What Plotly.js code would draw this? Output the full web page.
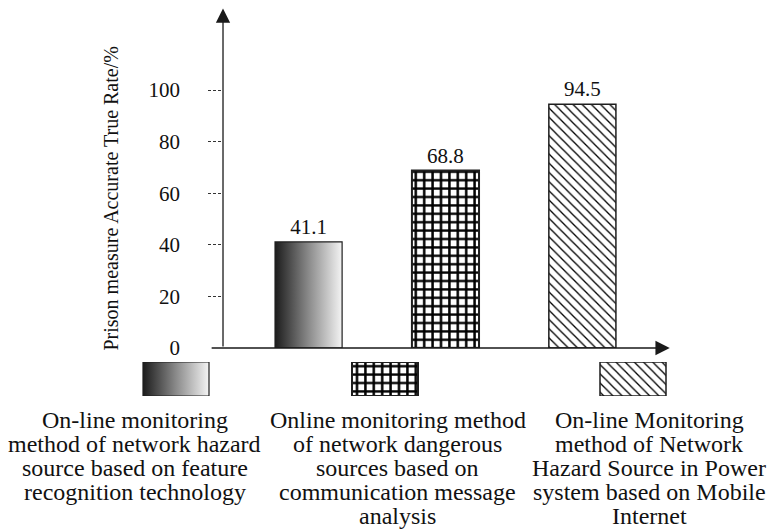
<!DOCTYPE html>
<html>
<head>
<meta charset="utf-8">
<script src="https://cdn.plot.ly/plotly-3.0.1.min.js"></script>
<style>
  html, body { margin: 0; padding: 0; background: #fff; }
  #chart { width: 770px; height: 531px; }
</style>
</head>
<body>
<div id="chart"></div>
<script>
// ---------------- data ----------------
const categoryLines = [
  ['On-line monitoring', 'method of network hazard', 'source based on feature', 'recognition technology'],
  ['Online monitoring method', 'of network dangerous', 'sources based on', 'communication message', 'analysis'],
  ['On-line Monitoring', 'method of Network', 'Hazard Source in Power', 'system based on Mobile', 'Internet']
];
const categories = categoryLines.map(l => l.join(' '));
const accuracy = [41.1, 68.8, 94.5];
const valueLabels = ['41.1', '68.8', '94.5'];
const yTickValues = [0, 20, 40, 60, 80, 100];
const yTickLabels = ['0', '20', '40', '60', '80', '100'];
const yAxisTitle = 'Prison measure Accurate True Rate/%';

// ---------------- layout helpers ----------------
const W = 770, H = 531;
const fx = p => p / W;
const fy = p => 1 - p / H;
const FONT = '"Liberation Serif", "Times New Roman", serif';

const yBottomPx = 348, yTopPx = 8, y100Px = 90;
const yMax = 100 * (yBottomPx - yTopPx) / (yBottomPx - y100Px);
const yDomain = [fy(yBottomPx), fy(yTopPx)];
const xRange = [-0.72, 2.64];
const yAxisAt = -0.625;

const styles = [
  { gradient: true, color: '#888888', lineWidth: 1.2 },
  { shape: '+', size: 8.4, solidity: 0.5, color: '#ffffff', lineWidth: 2 },
  { shape: '\\', size: 6.5, solidity: 0.2, color: '#ffffff', lineWidth: 1.5 }
];

const swatchX = [176, 385, 633];
const legendCenterX = [134.5, 398, 649];
const legendFirstLineY = 419.5, legendLineStep = 24.2;

function markerFor(i) {
  const s = styles[i];
  const m = { color: s.color, line: { color: '#1e1e1e', width: s.lineWidth } };
  if (s.shape) {
    m.pattern = { shape: s.shape, size: s.size, solidity: s.solidity,
                  fgcolor: '#000000', bgcolor: '#ffffff', fgopacity: 1, fillmode: 'overlay' };
  }
  return m;
}

const traces = [];
categories.forEach((c, i) => {
  traces.push({
    type: 'bar', x: [c], y: [accuracy[i]], width: 0.49,
    marker: markerFor(i), text: [valueLabels[i]], textposition: 'outside',
    textfont: { family: FONT, size: 21, color: '#111' }, cliponaxis: false,
    hoverinfo: 'skip', showlegend: false, xaxis: 'x', yaxis: 'y',
    meta: styles[i].gradient ? 'grad' : ''
  });
});
traces.push({ type: 'scatter', mode: 'markers', x: [], y: [], xaxis: 'x2', yaxis: 'y2', hoverinfo: 'skip', showlegend: false });
categories.forEach((c, i) => {
  traces.push({
    type: 'bar', x: [swatchX[i]], y: [1], width: 66,
    marker: markerFor(i), hoverinfo: 'skip', showlegend: false, xaxis: 'x3', yaxis: 'y3',
    meta: styles[i].gradient ? 'grad' : ''
  });
});

const hidden = { showgrid: false, zeroline: false, showline: false, showticklabels: false, ticks: '' };

const annotations = [
  { xref: 'x', yref: 'y', axref: 'x', ayref: 'y', x: 2.638, y: 0, ax: -0.719, ay: 0,
    text: '', showarrow: true, arrowhead: 2, arrowsize: 2.2, arrowwidth: 1.3, arrowcolor: '#1a1a1a', standoff: 0 },
  { xref: 'x', yref: 'y', axref: 'x', ayref: 'y', x: yAxisAt, y: yMax - 0.2, ax: yAxisAt, ay: 0,
    text: '', showarrow: true, arrowhead: 2, arrowsize: 2.2, arrowwidth: 1.3, arrowcolor: '#1a1a1a', standoff: 0 },
  { xref: 'paper', yref: 'paper', x: fx(110), y: fy(198.5), xanchor: 'center', yanchor: 'middle',
    text: yAxisTitle, textangle: -90, showarrow: false, font: { family: FONT, size: 20, color: '#111' } }
];
categoryLines.forEach((lines, i) => {
  lines.forEach((t, j) => {
    annotations.push({
      xref: 'paper', yref: 'paper', x: fx(legendCenterX[i]), y: fy(legendFirstLineY + j * legendLineStep),
      xanchor: 'center', yanchor: 'middle', text: t, showarrow: false,
      font: { family: FONT, size: 24, color: '#111' }
    });
  });
});

const layout = {
  width: W, height: H,
  margin: { l: 0, r: 0, t: 0, b: 0, pad: 0 },
  paper_bgcolor: '#ffffff',
  plot_bgcolor: 'rgba(0,0,0,0)',
  showlegend: false,
  barmode: 'overlay',
  font: { family: FONT, color: '#111' },
  xaxis: Object.assign({ domain: [fx(210), fx(670)], range: xRange, type: 'category',
    categoryorder: 'array', categoryarray: categories, anchor: 'y', fixedrange: true }, hidden),
  yaxis: Object.assign({ domain: yDomain, range: [0, yMax], anchor: 'x', fixedrange: true }, hidden),
  xaxis2: Object.assign({ domain: [fx(208), fx(223)], range: [0, 1], anchor: 'y2', fixedrange: true }, hidden),
  yaxis2: {
    domain: yDomain, range: [0, yMax], anchor: 'x2', side: 'left',
    tickmode: 'array', tickvals: yTickValues, ticktext: yTickLabels,
    showgrid: true, gridcolor: '#333', gridwidth: 1, griddash: '3px,2px',
    zeroline: false, showline: false, ticks: '', ticklabelstandoff: 27,
    tickfont: { family: FONT, size: 21, color: '#111' }, fixedrange: true
  },
  xaxis3: Object.assign({ domain: [0, 1], range: [0, W], anchor: 'y3', fixedrange: true }, hidden),
  yaxis3: Object.assign({ domain: [fy(396), fy(362)], range: [0, 1], anchor: 'x3', fixedrange: true }, hidden),
  annotations: annotations
};

Plotly.newPlot('chart', traces, layout, { staticPlot: true, displayModeBar: false }).then(gd => {
  const svg = gd.querySelector('svg.main-svg');
  let defs = svg.querySelector('defs');
  if (!defs) { defs = document.createElementNS('http://www.w3.org/2000/svg', 'defs'); svg.insertBefore(defs, svg.firstChild); }
  const grad = document.createElementNS('http://www.w3.org/2000/svg', 'linearGradient');
  grad.setAttribute('id', 'barGrad');
  grad.setAttribute('x1', '0'); grad.setAttribute('y1', '0');
  grad.setAttribute('x2', '1'); grad.setAttribute('y2', '0');
  [['0', '#1c1c1c'], ['0.5', '#8a8a8a'], ['1', '#f4f4f4']].forEach(([o, c]) => {
    const s = document.createElementNS('http://www.w3.org/2000/svg', 'stop');
    s.setAttribute('offset', o); s.setAttribute('stop-color', c);
    grad.appendChild(s);
  });
  defs.appendChild(grad);
  gd.querySelectorAll('g.trace.bars').forEach(tr => {
    const d = tr.__data__;
    const trace = d && d[0] && d[0].trace;
    if (trace && trace.meta === 'grad') {
      tr.querySelectorAll('g.point path').forEach(p => { p.style.fill = 'url(#barGrad)'; });
    }
  });
});
</script>
</body>
</html>
